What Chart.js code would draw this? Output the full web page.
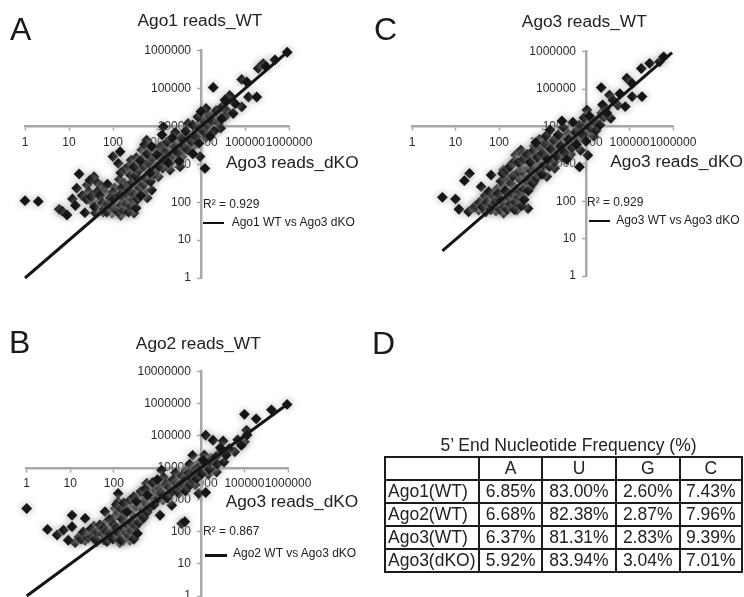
<!DOCTYPE html>
<html><head><meta charset="utf-8">
<script src="https://cdn.jsdelivr.net/npm/chart.js@4"></script>
<style>
html,body{margin:0;padding:0;background:#fff;overflow:hidden;width:744px;height:597px}
#stage{position:absolute;left:0;top:0;width:744px;height:597px;overflow:hidden;font-family:"Liberation Sans",Arial,sans-serif;color:#222;filter:blur(.35px)}
.c{position:absolute}
.c canvas{display:block}
.t{position:absolute;white-space:nowrap;line-height:1;transform:translateY(-50%)}
.mid{transform:translate(-50%,-50%)}
.letter{font-size:32px;color:#1a1a1a}
.ttl{font-size:17.3px}
.small{font-size:12px}
.sw{position:absolute;height:2.5px;background:#111}
table{position:absolute;left:384px;top:456px;width:357px;height:116px;border-collapse:collapse;table-layout:fixed;font-size:17.5px;color:#222}
td{border:2px solid #1c1c1c;padding:0;text-align:center;line-height:1;height:21px}
td.r{text-align:left;padding-left:2px;white-space:nowrap}
tr:first-child td{border-bottom-width:3px}
</style></head><body><div id="stage"></div>
<script>
const tickValues = [1,10,100,1000,10000,100000,1000000];
const tickValuesB = [1,10,100,1000,10000,100000,1000000,10000000];
const trendA = [[1,1],[1000000,1000000]];
const trendC = [[5,4.7],[950000,940000]];
const trendB = [[1,1],[1000000,1000000]];
const pointsA = [[1,110],[2,105],[6,65],[7,58],[9,46],[17,556],[15,234],[26,286],[37,473],[12,122],[14,82],[23,53],[39,147],[100,1600],[145,2150],[132,1060],
[30,380],[45,320],[55,260],[28,190],[20,150],[34,100],[48,75],[40,52],[60,55],[95,52],[150,45],[230,62],[300,52],[190,70],[125,90],[70,120],[85,160],[60,200],[110,240],[75,300],[140,400],[180,320],[100,60],[130,130],[170,170],[210,110],[280,90],[380,170],[520,210],[600,130],[52,110],[66,85],[80,68],[115,75],[160,105],[90,95],[250,140],[320,260],[240,200],[200,260],[150,230],[100,180],[430,300],[350,370],[270,330],
[490,190],[760,210],[1970,710],[1070,470],[3340,870],[9500,1600],[12300,780],[450,2400],[580,4350],[1400,9800],[5100,12000],
[25,120],[32,140],[38,75],[44,190],[50,150],[58,95],[63,65],[72,55],[78,90],[88,130],[98,75],[105,120],[118,60],[135,55],[145,150],[155,85],[175,60],[185,130],[205,90],[220,155],[225,55],[260,80],[265,170],[290,115],[310,160],[335,70],[360,120],[400,240],[430,150],[460,350],[500,300],[540,450],[570,800],[610,400],[680,850],[720,350],[780,700],[830,1200],[870,550],[950,1100],[1030,750],[1250,1100],[1280,1900],[1350,800],[1600,1700],[1650,2800],[1900,2300],[2200,1200],[2300,2000],[2700,1700],[2800,4000],[3300,3000],[3700,1600],[3800,2200],[4300,4200],[4700,5800],[5300,3300],[5700,5000],[6300,2800],[7000,3800],[7800,7500],[8200,4500],[8800,11000],[10500,6000],[11500,11000],[13000,5200],[16000,9000],[17000,17000],[20000,19000],[24000,20000],[33000,22000],[150,600],[190,750],[230,900],[260,1300],[340,1500],[380,1000],[530,1600],[670,2200],[1100,2300],[520,3300],
[250,520],[320,500],[400,700],[300,850],[500,900],[650,1100],[800,1500],[420,1250],[600,1900],[900,2600],[1200,3000],[1500,2100],[2000,1500],[2500,3000],[700,600],[1100,900],[1400,1300],[1800,1100],[3000,2000],[4000,3000],[5000,2400],[6000,4000],[7500,5500],[9000,3600],[3500,5000],[2600,7000],[4500,7500],[6500,11000],[9500,9000],[12000,7000],[14000,11000],[11000,15000],[8500,18000],[15000,20000],[18000,14000],[25000,12000],[22000,26000],[30000,33000],[13000,30000],[10000,25000],[40000,25000],[35000,18000],[28000,9000],[20000,7500],[1000,1800],[1700,3900],[750,3000],[3200,1200],[16000,5500],[6500,1900],[2200,5000],[1300,6000],
[19000,107000],[84000,174000],[110000,150000],[120000,60000],[185000,60000],[84000,33000],[29500,16000],[45000,66000],[200000,340000],[260000,457000],[480000,575000],[910000,910000],[54000,22000],[60000,40000],[35000,50000],[300000,380000]];
const pointsC = [[5,127],[10,114],[12,61],[20,52],[21,556],[16,355],[39,245],[66,500],[127,680],[34,58],[127,48],[257,58],[464,64],[240,1700],[320,2340],[200,1020],[1260,456],[1900,760],[7100,830],[11000,1700],[10500,27500],
[27,70],[50,52],[62,80],[45,110],[75,160],[55,68],[85,55],[70,115],[100,80],[120,130],[90,210],[130,260],[170,170],[150,90],[200,70],[230,120],[300,95],[350,130],[110,340],[160,420],[190,300],[250,210],[300,380],[420,250],[520,230],[640,330],[210,480],[280,620],[330,850],[400,530],[480,760],[580,480],[700,600],[800,1000],[950,700],
[30,75],[36,95],[42,70],[48,140],[54,95],[58,180],[65,60],[72,75],[78,130],[85,95],[95,160],[105,60],[112,105],[135,70],[140,190],[155,60],[175,120],[185,85],[215,150],[225,60],[240,95],[265,180],[290,130],[320,180],[330,75],[370,210],[380,110],[440,350],[470,190],[500,420],[550,650],[600,300],[660,800],[730,420],[780,1250],[830,650],[920,1350],[980,520],[1050,950],[1100,1500],[1250,2400],[1400,1900],[1450,850],[1650,1500],[1700,3300],[1900,1150],[2000,2500],[2300,2000],[2400,3800],[2800,1500],[2900,4800],[3400,3300],[3700,2600],[3900,6500],[4400,3300],[4500,1800],[5200,5500],[5500,3900],[6300,8500],[6700,4800],[7500,2300],[7800,8000],[9500,9000],[10500,13000],[11500,6500],[14000,15000],[15000,5500],[19000,15000],[23000,23000],[120,550],[150,700],[180,850],[230,1150],[310,1100],[350,1800],[430,1300],[580,1600],[650,3000],[900,2000],[850,4500],
[280,1100],[370,1350],[450,1800],[520,1100],[620,2300],[760,1500],[880,2900],[1000,1900],[1150,3500],[1300,1350],[1550,2500],[1800,4300],[2100,1600],[2600,3000],[3200,2000],[700,3700],[1200,5600],[1500,8000],[2300,6000],[3000,9500],[4000,4500],[4800,2700],[5800,7000],[7000,11000],[5000,13000],[8500,6000],[10000,4000],[13000,9000],[16000,13000],[9000,17000],[12000,19000],[17000,7800],[21000,11000],[26000,18000],[6000,3300],[3600,1300],[2800,14000],
[22400,110000],[34700,69000],[37000,16600],[54000,37000],[80000,34000],[115000,63000],[194000,63000],[87000,195000],[115000,141000],[187000,355000],[290000,490000],[490000,537000],[610000,730000],[28000,30000],[42000,50000],[60000,75000],[24000,38000],[30000,23000]];
const pointsB = [[1,537],[3,120],[5,80],[7,114],[11,330],[11,145],[22,263],[13,46],[9,55],[22,55],[40,49],[126,1580],[126,870],[107,537],[63,426],[138,46],[234,55],[214,129],[436,234],[1150,331],[2140,676],[1250,8500],[562,3236],[3630,182],[4270,209],[8900,1580],[12900,1700],[14800,6300],[22900,7400],[6460,24500],
[16,70],[28,90],[35,150],[50,120],[45,70],[60,55],[75,66],[65,190],[90,140],[110,100],[120,60],[165,55],[190,70],[150,160],[180,230],[105,300],[80,250],[130,410],[170,340],[240,430],[300,280],[220,700],[270,950],[330,620],[400,840],[360,1250],[470,500],[560,700],[620,1050],[450,1500],[720,1800],[880,900],[1000,1400],[820,2600],[1100,3500],[1350,1000],[1500,2200],[1800,1400],[2000,3300],[2600,2300],[1400,5000],[3100,1600],[3400,4500],[2600,7000],[4100,2600],[5000,3600],[4500,8000],[6000,5500],[7400,3000],[7000,11000],[8500,7500],[9500,15000],[5500,13000],[11000,10000],[14000,12000],[17000,20000],[12000,25000],[21000,16000],[26000,27000],[19000,11000],
[18,60],[20,100],[26,65],[30,125],[32,70],[38,60],[42,100],[48,165],[55,90],[58,130],[68,100],[70,50],[85,85],[95,60],[100,170],[115,130],[130,90],[145,55],[155,250],[175,120],[200,90],[210,165],[230,75],[260,110],[255,200],[290,60],[320,150],[350,90],[380,200],[420,350],[490,280],[510,900],[590,420],[660,1500],[690,600],[780,1200],[840,700],[930,2000],[1050,1100],[1150,2300],[1230,1600],[1400,1400],[1600,3200],[1700,1150],[1900,2400],[2200,1800],[2300,4300],[2800,3200],[2900,1800],[3200,2800],[3700,5500],[3800,3300],[4400,1900],[4700,4600],[5300,7000],[5600,2900],[6500,4300],[6800,7500],[7800,9500],[8000,4600],[9000,10500],[10000,12000],[10500,6500],[12500,14000],[15500,9000],[16000,16000],[22000,22000],[24000,13000],[115,720],[150,520],[170,800],[200,420],[240,1000],[290,1250],[330,900],[420,1850],[520,2200],[590,1400],[780,3500],[1000,4300],
[11200,17400],[12900,104000],[19000,72600],[33900,15100],[60000,31600],[100000,64600],[100000,468000],[186000,339000],[112000,148000],[417000,646000],[955000,955000],[32400,69000],[45000,40000],[70000,75000],[38000,25000],[85000,50000],[115000,105000],[28000,42000]];
const rowNames = ['Ago1(WT)','Ago2(WT)','Ago3(WT)','Ago3(dKO)'];
const colNames = ['A','U','G','C'];
const freqA = ['6.85%','6.68%','6.37%','5.92%'];
const freqU = ['83.00%','82.38%','81.31%','83.94%'];
const freqG = ['2.60%','2.87%','2.83%','3.04%'];
const freqC = ['7.43%','7.96%','9.39%','7.01%'];

const stage = document.getElementById('stage');
const glow = {
  id:'glow',
  beforeDatasetDraw(chart,args){
    if(args.meta.type==='scatter'){const c=chart.ctx;c.save();c.shadowColor='#a2a2a2';c.shadowBlur=7;}
  },
  afterDatasetDraw(chart,args){
    if(args.meta.type==='scatter'){chart.ctx.restore();}
  }
};
function xy(p){return p.map(v=>({x:v[0],y:v[1]}));}
function panel(o){
  const box=document.createElement('div');
  box.className='c';
  box.style.cssText=`left:${o.left}px;top:${o.top}px;width:${o.w}px;height:${o.h}px`;
  const cv=document.createElement('canvas');
  cv.width=o.w;cv.height=o.h;
  box.appendChild(cv);stage.appendChild(box);
  const axisCommon={
    type:'logarithmic',
    border:{color:'#a8a8a8',width:2.5},
    grid:{drawOnChartArea:false,drawTicks:true,tickLength:3,color:'#a8a8a8',tickWidth:1.5},
    afterFit(s){ if(s.axis==='x'){s.height=0}else{s.width=0} }
  };
  new Chart(cv,{
    type:'scatter',
    plugins:[glow],
    data:{datasets:[
      {type:'line',label:o.legend,data:xy(o.trend),borderColor:'#141414',borderWidth:3,pointRadius:0,clip:false,fill:false,tension:0},
      {label:'reads',data:xy(o.points),pointStyle:'rectRot',pointRadius:5.4,pointHoverRadius:5.4,backgroundColor:'#151515',borderWidth:0,clip:false}
    ]},
    options:{
      responsive:false,animation:false,
      devicePixelRatio:1,
      layout:{padding:o.pad},
      plugins:{legend:{display:false},title:{display:false},tooltip:{enabled:false}},
      scales:{
        x:Object.assign({},axisCommon,{min:1,max:1000000,position:{y:10000},
          afterBuildTicks(s){s.ticks=tickValues.map(v=>({value:v}))},
          ticks:{autoSkip:false,maxRotation:0,minRotation:0,padding:6,color:'#2a2a2a',font:{family:'"Liberation Sans"',size:12},callback:v=>String(v)}}),
        y:Object.assign({},axisCommon,{min:1,max:o.ymax,position:{x:10000},
          afterBuildTicks(s){s.ticks=o.yticks.map(v=>({value:v}))},
          ticks:{autoSkip:false,color:'#2a2a2a',font:{family:'"Liberation Sans"',size:12},callback:v=>String(v)+'   '}})
      }
    }
  });
}
function text(cls,s,x,y){const d=document.createElement('div');d.className='t '+cls;d.textContent=s;d.style.left=x+'px';d.style.top=y+'px';stage.appendChild(d);return d;}
function swatch(x1,x2,y){const d=document.createElement('div');d.className='sw';d.style.cssText=`left:${x1}px;width:${x2-x1}px;top:${y-1}px`;stage.appendChild(d);}

panel({left:0,top:0,w:372,h:300,pad:{left:25,right:83,top:50.7,bottom:22},points:pointsA,trend:trendA,ymax:1000000,yticks:tickValues,legend:'Ago1 WT vs Ago3 dKO'});
panel({left:372,top:0,w:372,h:300,pad:{left:40,right:71,top:51.7,bottom:24},points:pointsC,trend:trendC,ymax:1000000,yticks:tickValues,legend:'Ago3 WT vs Ago3 dKO'});
panel({left:0,top:320,w:372,h:290,pad:{left:26.7,right:84,top:51.7,bottom:14},points:pointsB,trend:trendB,ymax:10000000,yticks:tickValuesB,legend:'Ago2 WT vs Ago3 dKO'});

text('letter','A',10,29);
text('letter','C',374,29);
text('letter','B',9,342);
text('letter','D',372,343);
text('ttl mid','Ago1 reads_WT',200,21);
text('ttl mid','Ago3 reads_WT',584.3,21.7);
text('ttl mid','Ago2 reads_WT',198.3,344);
text('ttl','Ago3 reads_dKO',226,163);
text('ttl','Ago3 reads_dKO',610.3,162);
text('ttl','Ago3 reads_dKO',225.7,502.3);
text('small','R² = 0.929',203,203.7);
text('small','R² = 0.929',587,202);
text('small','R² = 0.867',203,531);
swatch(203,224,222.7);text('small','Ago1 WT vs Ago3 dKO',231.7,222);
swatch(588.7,610.3,220.7);text('small','Ago3 WT vs Ago3 dKO',616.3,220);
swatch(205,226.7,555.4);text('small','Ago2 WT vs Ago3 dKO',233,553);
text('ttl mid',"5’ End Nucleotide Frequency (%)",568.5,446).style.fontSize='17.5px';

const tb=document.createElement('table');
const cg=document.createElement('colgroup');
[94,63.3,73.4,64,62.3].forEach(w=>{const c=document.createElement('col');c.style.width=w+'px';cg.appendChild(c);});
tb.appendChild(cg);
function row(cells){const tr=document.createElement('tr');cells.forEach((s,i)=>{const td=document.createElement('td');td.textContent=s;if(i===0)td.className='r';tr.appendChild(td);});tb.appendChild(tr);}
row([''].concat(colNames));
rowNames.forEach((n,i)=>row([n,freqA[i],freqU[i],freqG[i],freqC[i]]));
stage.appendChild(tb);
</script></body></html>
